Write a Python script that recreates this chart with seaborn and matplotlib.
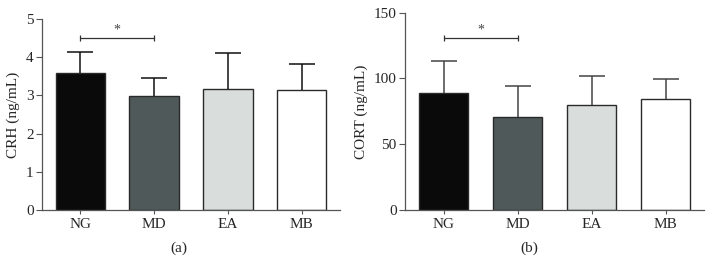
import numpy as np
import pandas as pd
import matplotlib
matplotlib.use('Agg')
import matplotlib.pyplot as plt
import seaborn as sns

groups = ["NG", "MD", "EA", "MB"]
crh_mean = [3.58, 2.99, 3.17, 3.15]
crh_sd = [0.56, 0.45, 0.94, 0.67]
cort_mean = [89.2, 71.0, 79.6, 84.2]
cort_sd = [24.3, 23.5, 22.5, 15.6]

bar_colors = ["#0a0a0a", "#4d5a5b", "#d8dedc", "#ffffff"]

sns.set_theme(style="ticks")
plt.rcParams['font.family'] = ['Liberation Serif', 'DejaVu Serif']

fig = plt.figure(figsize=(7.12, 2.75), dpi=100)
ax_a = fig.add_axes([0.059, 0.236, 0.4185, 0.696])
ax_b = fig.add_axes([0.569, 0.236, 0.420, 0.718])


def draw_panel(ax, means, sds, ylabel, ymax, yticks, sig_y, err_color):
    df = pd.DataFrame({"group": groups, "value": means})
    sns.barplot(data=df, x="group", y="value", hue="group", palette=bar_colors,
                width=0.67, edgecolor="#2a2a2a", linewidth=1.0, errorbar=None,
                legend=False, ax=ax)
    x = np.arange(len(groups))
    eb = ax.errorbar(x, means, yerr=[np.zeros(len(sds)), sds], fmt='none',
                     ecolor=err_color, elinewidth=1.1, capsize=9.4,
                     capthick=1.1, zorder=1)
    # only the upper whisker is shown, hide the lower cap
    eb[1][0].set_visible(False)
    # significance bracket between NG and MD
    ax.plot([0, 1], [sig_y, sig_y], color="#333333", lw=0.9,
            marker='|', markersize=5, markeredgewidth=0.9)
    ax.text(0.5, sig_y + ymax * 0.008, "*", ha="center", va="bottom",
            fontsize=10, color="#444444")
    ax.set_xlim(-0.52, 3.52)
    ax.set_ylim(0, ymax)
    ax.set_yticks(yticks)
    ax.set_xlabel("")
    ax.set_ylabel(ylabel, fontsize=11, labelpad=4)
    for s in ["top", "right"]:
        ax.spines[s].set_visible(False)
    for s in ["left", "bottom"]:
        ax.spines[s].set_color("#555555")
        ax.spines[s].set_linewidth(0.9)
    ax.tick_params(axis="y", length=4, width=0.8, color="#555555",
                   labelsize=11, pad=2)
    ax.tick_params(axis="x", length=3, width=0.8, color="#555555",
                   labelsize=11, pad=3)


draw_panel(ax_a, crh_mean, crh_sd, "CRH (ng/mL)", 5, [0, 1, 2, 3, 4, 5],
           4.49, "#111111")
draw_panel(ax_b, cort_mean, cort_sd, "CORT (ng/mL)", 150, [0, 50, 100, 150],
           130.5, "#444444")

fig.text(179 / 712, 1 - 248 / 275, "(a)", ha="center", va="center", fontsize=11)
fig.text(529 / 712, 1 - 248 / 275, "(b)", ha="center", va="center", fontsize=11)

fig.savefig("out.png", dpi=100)
plt.close(fig)
